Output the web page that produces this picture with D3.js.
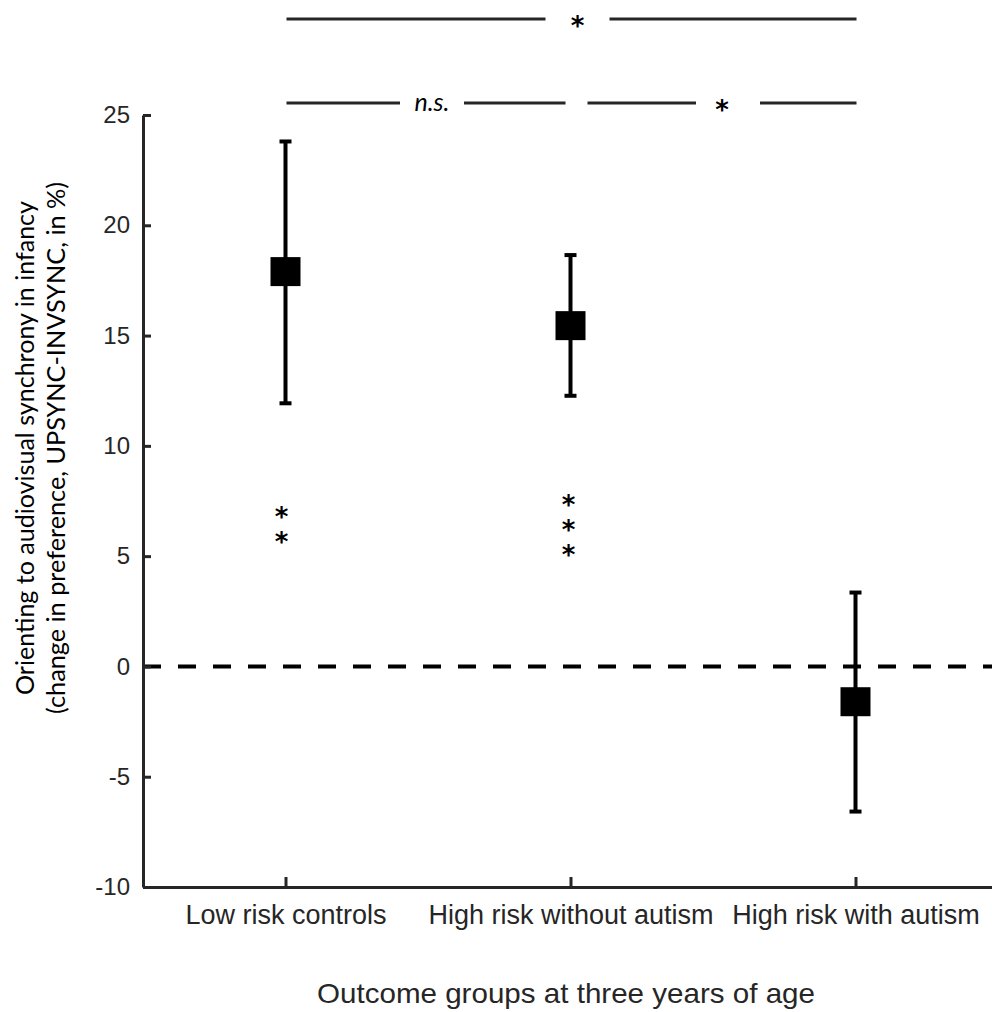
<!DOCTYPE html>
<html>
<head>
<meta charset="utf-8">
<script src="https://cdn.jsdelivr.net/npm/d3@7"></script>
<style>
  html, body { margin: 0; padding: 0; background: #fff; }
  svg { display: block; }
</style>
</head>
<body>
<svg id="chart" width="992" height="1012"></svg>
<script>
// ---- data ----
const groups = ["Low risk controls", "High risk without autism", "High risk with autism"];
const means = [17.9, 15.45, -1.6];
const upper = [23.8, 18.65, 3.35];
const lower = [11.93, 12.27, -6.58];
const vsZeroSig = ["**", "***", ""];
const yTicks = [-10, -5, 0, 5, 10, 15, 20, 25];
const comparisons = [
  { a: 0, b: 1, label: "n.s.", row: 0 },
  { a: 1, b: 2, label: "*", row: 0 },
  { a: 0, b: 2, label: "*", row: 1 }
];

// ---- layout ----
const svg = d3.select("#chart");
const axisColor = "#262626";
const x = d3.scaleLinear().domain([0.5, 3.5]).range([143, 998]);
const y = d3.scaleLinear().domain([-10, 25]).range([887, 115]);
const tickFont = "'Liberation Sans', Arial, sans-serif";
const labelFont = "Lato, 'Open Sans', sans-serif";
const starFont = "'DejaVu Sans', sans-serif";

// zero reference line
svg.append("line")
  .attr("x1", x(0.5)).attr("x2", x(3.5))
  .attr("y1", y(0)).attr("y2", y(0))
  .attr("stroke", "#000").attr("stroke-width", 4)
  .attr("stroke-dasharray", "18,17");

// left axis
const gy = svg.append("g").attr("transform", `translate(${x(0.5)},0)`)
  .call(d3.axisLeft(y).tickValues(yTicks).tickFormat(d => String(d))
    .tickSizeInner(-8).tickSizeOuter(0).tickPadding(13));
// bottom axis
const gx = svg.append("g").attr("transform", `translate(0,${y(-10)})`)
  .call(d3.axisBottom(x).tickValues([1, 2, 3]).tickFormat((d) => groups[d - 1])
    .tickSizeInner(-10).tickSizeOuter(0).tickPadding(18));

[gy, gx].forEach(g => {
  g.select(".domain").attr("stroke", axisColor).attr("stroke-width", 3);
  g.selectAll(".tick line").attr("stroke", axisColor).attr("stroke-width", 3);
  g.selectAll(".tick text").attr("fill", axisColor).style("font-family", tickFont);
});
gy.selectAll(".tick text").style("font-size", "24px");
gx.selectAll(".tick text").style("font-size", "27px");

// error bars
const idx = d3.range(groups.length);
const capW = 12;
svg.append("g").selectAll("line").data(idx).join("line")
  .attr("x1", i => x(i + 1)).attr("x2", i => x(i + 1))
  .attr("y1", i => y(upper[i])).attr("y2", i => y(lower[i]))
  .attr("stroke", "#000").attr("stroke-width", 4);
svg.append("g").selectAll("line").data(idx).join("line")
  .attr("x1", i => x(i + 1) - capW / 2).attr("x2", i => x(i + 1) + capW / 2)
  .attr("y1", i => y(upper[i])).attr("y2", i => y(upper[i]))
  .attr("stroke", "#000").attr("stroke-width", 4);
svg.append("g").selectAll("line").data(idx).join("line")
  .attr("x1", i => x(i + 1) - capW / 2).attr("x2", i => x(i + 1) + capW / 2)
  .attr("y1", i => y(lower[i])).attr("y2", i => y(lower[i]))
  .attr("stroke", "#000").attr("stroke-width", 4);

// mean markers
const sq = 30;
svg.append("g").selectAll("rect").data(idx).join("rect")
  .attr("x", i => x(i + 1) - sq / 2).attr("y", i => y(means[i]) - sq / 2 + 0.5)
  .attr("width", sq).attr("height", sq - 1).attr("fill", "#000");

// significance vs zero (stacked asterisks below lower bars)
idx.forEach(i => {
  const s = vsZeroSig[i];
  if (!s) return;
  const cx = x(i + 1) - (i === 0 ? 4 : 2);
  const t = svg.append("text")
    .attr("text-anchor", "middle")
    .style("font-family", starFont).style("font-size", "26px")
    .style("font-weight", "bold")
    .attr("fill", "#000");
  for (let k = 0; k < s.length; k++) {
    t.append("tspan").attr("x", cx)
      .attr("y", y(lower[i]) + (i === 0 ? 123 : 118) + k * 25)
      .text("*");
  }
});

// comparison brackets
const rowY = [103, 19];
const gap = 64;
comparisons.forEach(c => {
  let x1 = x(c.a + 1) + 1, x2 = x(c.b + 1) + 1;
  if (c.row === 0) {
    if (c.a === 1) x1 = x(c.a + 1) + 17;
    if (c.b === 1) x2 = x(c.b + 1) - 5;
  }
  const ly = rowY[c.row];
  const mid = (x1 + x2) / 2;
  const gc = mid + 6;
  [[x1, gc - gap / 2], [gc + gap / 2, x2]].forEach(([a, b]) => {
    svg.append("line").attr("x1", a).attr("x2", b).attr("y1", ly).attr("y2", ly)
      .attr("stroke", "#262626").attr("stroke-width", 3);
  });
  const isStar = c.label === "*";
  const lx = (isStar && c.row === 0) ? mid : gc;
  svg.append("text")
    .attr("x", lx).attr("y", isStar ? ly + 16 : ly + 8)
    .attr("text-anchor", "middle")
    .style("font-family", isStar ? starFont : labelFont)
    .style("font-size", isStar ? "26px" : "25px")
    .style("font-style", isStar ? "normal" : "italic")
    .style("font-weight", isStar ? "bold" : "normal")
    .attr("fill", "#000").text(c.label);
});

// axis titles
svg.append("text")
  .attr("x", 566).attr("y", 1003)
  .attr("text-anchor", "middle")
  .attr("textLength", 498).attr("lengthAdjust", "spacingAndGlyphs")
  .style("font-family", tickFont).style("font-size", "28px")
  .attr("fill", axisColor).text("Outcome groups at three years of age");

const yl = svg.append("text")
  .attr("transform", "translate(0,448) rotate(-90)")
  .attr("text-anchor", "middle")
  .style("font-family", labelFont).style("font-size", "25px")
  .attr("fill", "#000");
yl.append("tspan").attr("x", 0).attr("y", 34)
  .attr("textLength", 494).attr("lengthAdjust", "spacingAndGlyphs")
  .text("Orienting to audiovisual synchrony in infancy");
yl.append("tspan").attr("x", 0).attr("y", 65)
  .attr("textLength", 532).attr("lengthAdjust", "spacingAndGlyphs")
  .text("(change in preference, UPSYNC-INVSYNC, in %)");
</script>
</body>
</html>
